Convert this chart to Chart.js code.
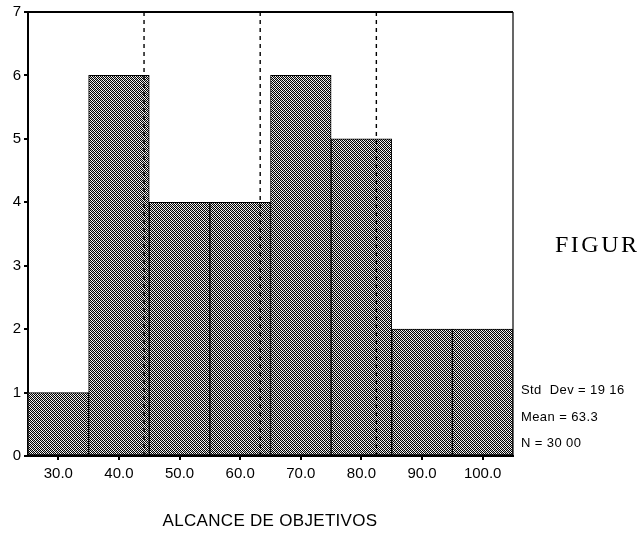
<!DOCTYPE html>
<html>
<head>
<meta charset="utf-8">
<script src="https://cdn.jsdelivr.net/npm/chart.js@4"></script>
<style>
  html, body { margin: 0; padding: 0; background: #fff; }
  canvas { display: block; }
</style>
</head>
<body>
<canvas id="hist" width="638" height="537"></canvas>
<script>
// Histogram of "ALCANCE DE OBJETIVOS" (bin width 10)
const binCenters = [30, 40, 50, 60, 70, 80, 90, 100];
const counts     = [1, 6, 4, 4, 6, 5, 2, 2];
const xTickValues = [30, 40, 50, 60, 70, 80, 90, 100];
const yTickValues = [0, 1, 2, 3, 4, 5, 6, 7];
// mean - sd, mean, mean + sd
const refLines = [44.14, 63.3, 82.46];
const statLines = ['Std  Dev = 19 16', 'Mean = 63.3', 'N = 30 00'];
const xTitle = 'ALCANCE DE OBJETIVOS';
const sideCaption = 'FIGURA';

// dithered grey fill for the bars: checkerboard with a light diagonal grain
function makePattern() {
  const c = document.createElement('canvas');
  c.width = 4; c.height = 4;
  const g = c.getContext('2d');
  g.fillStyle = '#fff';
  g.fillRect(0, 0, 4, 4);
  for (let y = 0; y < 4; y++) {
    for (let x = 0; x < 4; x++) {
      if ((x + y) % 2 === 0) {
        g.fillStyle = '#000';
        g.fillRect(x, y, 1, 1);
      } else if (((x - y) % 4 + 4) % 4 === 1) {
        g.fillStyle = '#c8c8c8';
        g.fillRect(x, y, 1, 1);
      }
    }
  }
  return document.getElementById('hist').getContext('2d').createPattern(c, 'repeat');
}

const barData = binCenters.map((x, i) => ({ x, y: counts[i] }));
const lineSets = refLines.map(v => ({
  type: 'line',
  data: [{ x: v, y: 0 }, { x: v, y: 7 }],
  borderColor: '#000',
  borderWidth: 1.4,
  borderDash: [4, 4],
  pointRadius: 0,
  fill: false,
  order: 0
}));

const framePlugin = {
  id: 'frameAndText',
  afterDraw(chart) {
    const { ctx, chartArea: a } = chart;
    ctx.save();
    ctx.strokeStyle = '#000';
    ctx.lineWidth = 2;
    ctx.beginPath();
    ctx.moveTo(a.left, a.top);
    ctx.lineTo(a.right, a.top);
    ctx.stroke();
    ctx.lineWidth = 1.2;
    ctx.beginPath();
    ctx.moveTo(a.right, a.top);
    ctx.lineTo(a.right, a.bottom);
    ctx.stroke();

    ctx.fillStyle = '#000';
    ctx.textBaseline = 'middle';
    ctx.textAlign = 'left';
    ctx.font = '13px "Liberation Sans", Arial, sans-serif';
    ctx.letterSpacing = '0.4px';
    const sy = [390, 417, 443];
    statLines.forEach((t, i) => ctx.fillText(t, 521, sy[i]));

    ctx.font = '24px "Liberation Serif", "Times New Roman", serif';
    ctx.letterSpacing = '2.5px';
    ctx.fillText(sideCaption, 555, 246);

    ctx.textAlign = 'center';
    ctx.font = '17px "Liberation Sans", Arial, sans-serif';
    ctx.letterSpacing = '0.3px';
    ctx.fillText(xTitle, 270, 521);
    ctx.restore();
  }
};

new Chart(document.getElementById('hist'), {
  data: {
    datasets: [
      {
        type: 'bar',
        data: barData,
        backgroundColor: makePattern(),
        borderColor: '#000',
        borderWidth: 1,
        borderSkipped: false,
        barPercentage: 1,
        categoryPercentage: 1,
        order: 1
      },
      ...lineSets
    ]
  },
  options: {
    responsive: false,
    animation: false,
    devicePixelRatio: 1,
    layout: { padding: { top: 12, right: 125, bottom: 0, left: 0 } },
    plugins: { legend: { display: false }, tooltip: { enabled: false } },
    scales: {
      x: {
        type: 'linear',
        offset: false,
        min: 25,
        max: 105,
        afterBuildTicks(scale) { scale.ticks = xTickValues.map(v => ({ value: v })); },
        afterFit(scale) { scale.height = 81; },
        grid: { offset: false, drawOnChartArea: false, drawTicks: true, tickLength: 4, color: '#000', lineWidth: 2 },
        border: { display: true, color: '#000', width: 2 },
        ticks: {
          color: '#000',
          padding: 5,
          maxRotation: 0,
          font: { family: '"Liberation Sans", Arial, sans-serif', size: 15 },
          callback: v => v.toFixed(1)
        }
      },
      y: {
        type: 'linear',
        min: 0,
        max: 7,
        afterBuildTicks(scale) { scale.ticks = yTickValues.map(v => ({ value: v })); },
        afterFit(scale) { scale.width = 28; },
        grid: { drawOnChartArea: false, drawTicks: true, tickLength: 4, color: '#000', lineWidth: 2 },
        border: { display: true, color: '#000', width: 2 },
        ticks: {
          color: '#000',
          padding: 3,
          font: { family: '"Liberation Sans", Arial, sans-serif', size: 15 }
        }
      }
    }
  },
  plugins: [framePlugin]
});
</script>
</body>
</html>
